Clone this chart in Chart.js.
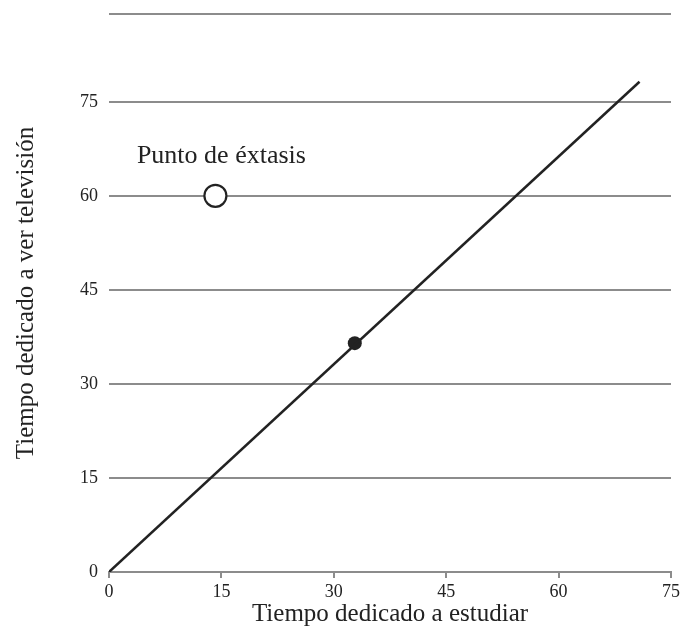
<!DOCTYPE html>
<html>
<head>
<meta charset="utf-8">
<script src="https://cdn.jsdelivr.net/npm/chart.js@4"></script>
<style>
  html, body { margin: 0; padding: 0; background: #fff; }
  #wrap { width: 681px; height: 636px; position: relative; }
</style>
</head>
<body>
<div id="wrap"><canvas id="chart"></canvas></div>
<script>
// Datos
const xTicks = [0, 15, 30, 45, 60, 75];
const yTicks = [0, 15, 30, 45, 60, 75];
const yTop = 89;
const lineX = [0, 70.8];
const lineY = [0, 78.2];
const extasisPoint = { x: 14.2, y: 60 };
const currentPoint = { x: 32.8, y: 36.5 };
const extasisLabel = 'Punto de éxtasis';
const extasisLabelPos = { x: 15, y: 66.4 };

const serif = '"Liberation Serif", "DejaVu Serif", serif';
const ink = '#222';
const gridGray = '#8c8c8c';

// Texto "Punto de éxtasis" colocado con las escalas
const labelPlugin = {
    id: 'extasisLabel',
    afterDatasetsDraw(chart) {
        const ctx = chart.ctx;
        const px = chart.scales.x.getPixelForValue(extasisLabelPos.x);
        const py = chart.scales.y.getPixelForValue(extasisLabelPos.y);
        ctx.save();
        ctx.font = '26px ' + serif;
        ctx.fillStyle = ink;
        ctx.textAlign = 'center';
        ctx.textBaseline = 'middle';
        ctx.fillText(extasisLabel, px, py);
        ctx.restore();
    }
};

new Chart(document.getElementById('chart'), {
    type: 'scatter',
    data: {
        datasets: [
            {
                type: 'line',
                data: lineX.map((x, i) => ({ x: x, y: lineY[i] })),
                borderColor: ink,
                borderWidth: 2.5,
                pointRadius: 0,
                fill: false
            },
            {
                data: [extasisPoint],
                pointRadius: 11,
                pointBorderWidth: 2.2,
                pointBorderColor: ink,
                pointBackgroundColor: '#fff'
            },
            {
                data: [currentPoint],
                pointRadius: 7,
                pointBorderWidth: 0,
                pointBackgroundColor: ink
            }
        ]
    },
    options: {
        responsive: true,
        maintainAspectRatio: false,
        animation: false,
        layout: { padding: { top: 14, right: 10, left: 0, bottom: 0 }, autoPadding: false },
        plugins: {
            legend: { display: false },
            tooltip: { enabled: false }
        },
        scales: {
            x: {
                type: 'linear',
                min: 0,
                max: 75,
                afterBuildTicks: (scale) => { scale.ticks = xTicks.map(v => ({ value: v })); },
                afterFit: (scale) => {
                    scale.height = 64;
                    scale.paddingLeft = 0;
                    scale.paddingRight = 0;
                },
                border: { display: true, color: gridGray, width: 2 },
                grid: {
                    drawOnChartArea: false,
                    drawTicks: true,
                    tickLength: 6,
                    color: gridGray,
                    lineWidth: 2
                },
                ticks: {
                    color: ink,
                    padding: 3,
                    font: { family: serif, size: 18 }
                },
                title: {
                    display: true,
                    text: 'Tiempo dedicado a estudiar',
                    color: ink,
                    font: { family: serif, size: 25 },
                    padding: { top: 0, bottom: 7 }
                }
            },
            y: {
                type: 'linear',
                min: 0,
                max: yTop,
                afterBuildTicks: (scale) => {
                    scale.ticks = yTicks.concat([yTop]).map(v => ({ value: v }));
                },
                afterFit: (scale) => {
                    scale.width = 109;
                    scale.paddingTop = 0;
                    scale.paddingBottom = 0;
                },
                border: { display: false },
                grid: {
                    drawTicks: false,
                    color: gridGray,
                    lineWidth: 2
                },
                ticks: {
                    color: ink,
                    padding: 11,
                    font: { family: serif, size: 18 },
                    callback: (v) => (yTicks.includes(v) ? v : '')
                },
                title: {
                    display: true,
                    text: 'Tiempo dedicado a ver televisión',
                    color: ink,
                    font: { family: serif, size: 25 },
                    padding: { top: 11, bottom: 0 }
                }
            }
        }
    },
    plugins: [labelPlugin]
});
</script>
</body>
</html>
